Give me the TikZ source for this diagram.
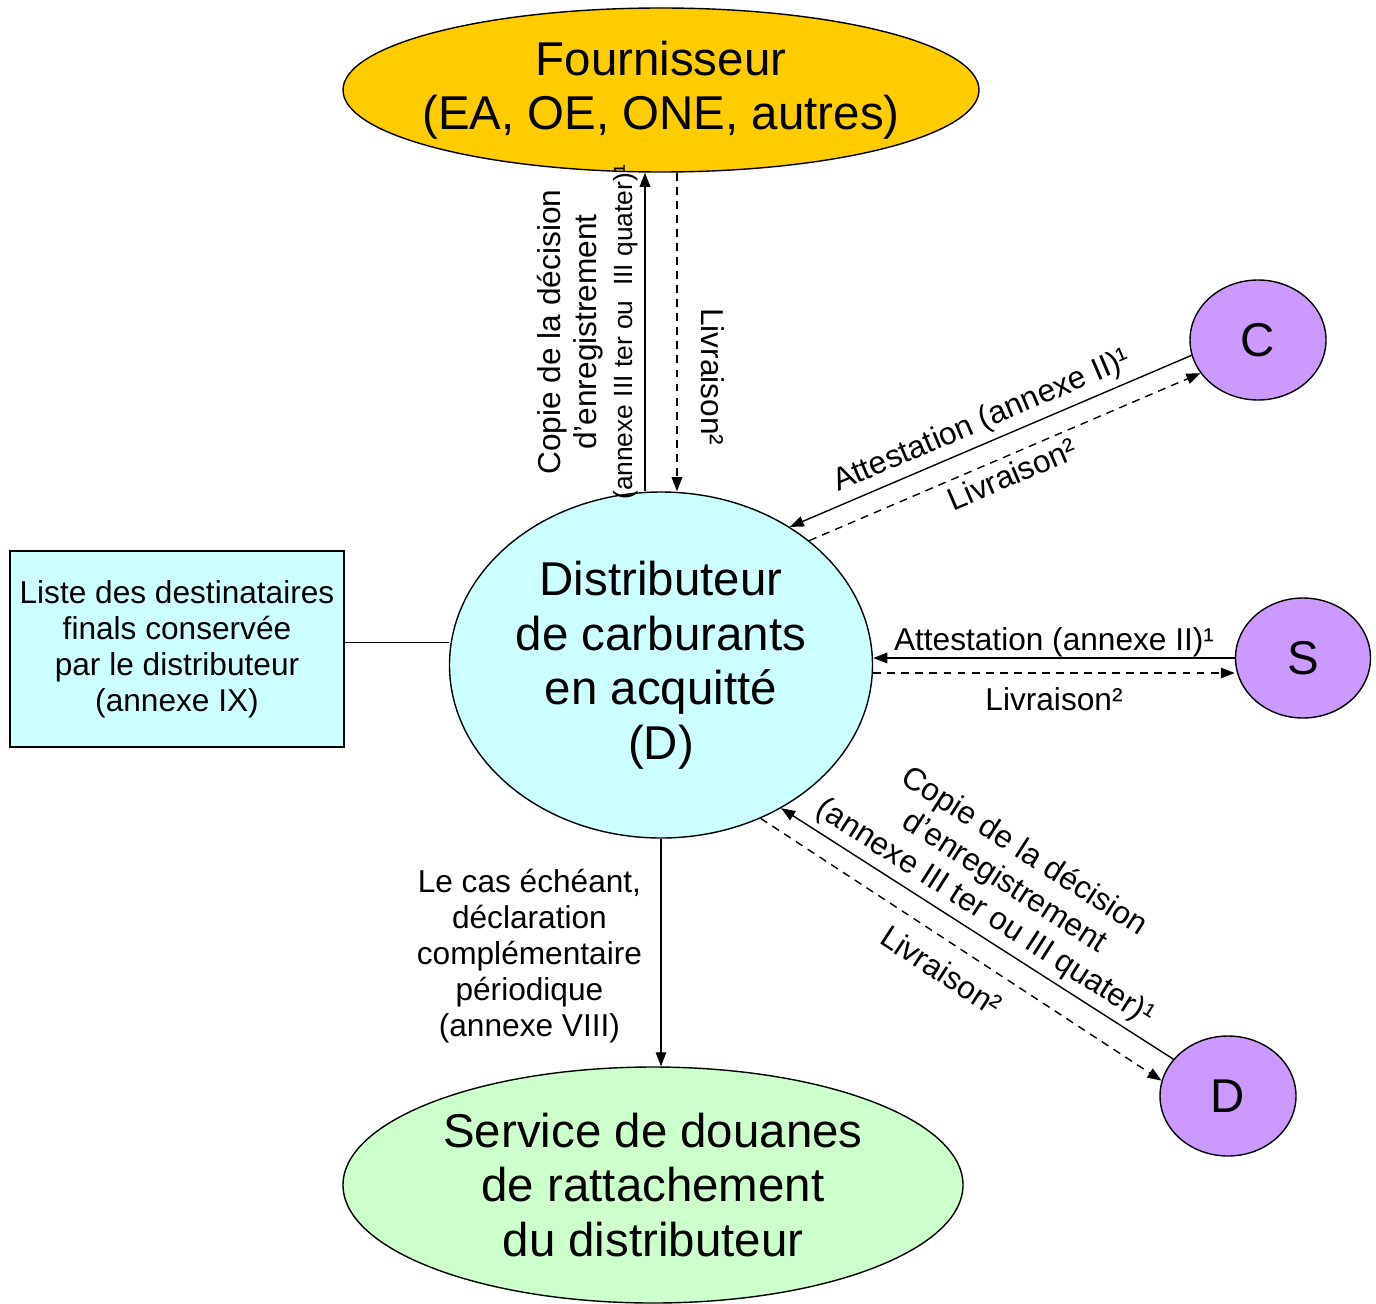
\documentclass[tikz,border=0pt]{standalone}
\usepackage{fontspec}
\setmainfont{Liberation Sans}
\usetikzlibrary{shapes.geometric, arrows.meta, positioning}
\definecolor{fourcol}{HTML}{FFCC00}
\definecolor{distcol}{HTML}{CCFFFF}
\definecolor{servcol}{HTML}{CCFFCC}
\definecolor{actcol}{HTML}{CC99FF}
\tikzset{
    party/.style = {
        ellipse, draw, line width=0.8pt,
        inner sep=0pt,
        align=center,
        font=\fontsize{27}{31}\selectfont
    },
    actor/.style = {
        ellipse, draw, line width=0.8pt, fill=actcol,
        minimum width=2.72cm,
        minimum height=2.4cm,
        inner sep=0pt,
        font=\fontsize{27}{31}\selectfont
    },
    listbox/.style = {
        rectangle, draw, line width=1.4pt, fill=distcol,
        minimum width=6.68cm,
        minimum height=3.92cm,
        align=center,
        font=\fontsize{18}{20.5}\selectfont
    },
    lbl/.style = {
        align=center,
        font=\fontsize{18}{20.5}\selectfont
    },
    arrow/.style = {
        -{Triangle[length=8pt, width=6pt]}, line width=0.8pt
    },
    dasharrow/.style = {
        arrow, dash pattern=on 4.5pt off 3.5pt
    }
}

\begin{document}
\begin{tikzpicture}[node distance=1cm]
\useasboundingbox (-13.22,-12.76) rectangle (14.30,13.30);

\node (dist) [party, fill=distcol, minimum width=8.46cm, minimum height=6.92cm] {Distributeur\\de carburants\\en acquitté\\(D)};
\node (four) [party, fill=fourcol, minimum width=12.72cm, minimum height=3.28cm, inner xsep=-1cm, node distance=11.5cm, above of=dist] {Fournisseur\\(EA, OE, ONE, autres)};
\node (serv) [party, fill=servcol, minimum width=12.4cm, minimum height=4.72cm, node distance=10.4cm, below of=dist, xshift=-0.16cm] {Service de douanes\\de rattachement\\du distributeur};
\node (liste) [listbox, node distance=9.68cm, left of=dist, yshift=0.32cm] {Liste des destinataires\\finals conservée\\par le distributeur\\(annexe IX)};
\node (c) [actor, node distance=11.94cm, right of=dist, yshift=6.5cm] {C};
\node (s) [actor, node distance=12.84cm, right of=dist, yshift=0.14cm, minimum width=2.7cm] {S};
\node (d) [actor, node distance=11.34cm, right of=dist, yshift=-8.62cm] {D};

\draw [arrow] ([xshift=-0.32cm]dist.north) -- ([xshift=-0.32cm]four.south)
    node [lbl, midway, rotate=90, anchor=south] {Copie de la décision\\d’enregistrement\\{\fontsize{15}{17}\selectfont(annexe III ter ou \ III quater)¹}};
\draw [dasharrow] ([xshift=0.32cm]four.south) -- ([xshift=0.32cm]dist.north)
    node [lbl, pos=0.64, rotate=-90, anchor=south, inner ysep=0.46cm] {Livraison²};

\draw [arrow] (c.193) -- (dist.47) node [lbl, midway, above, sloped] {Attestation (annexe II)¹};
\draw [dasharrow] (dist.40) -- (c.210) node [lbl, midway, below, sloped] {Livraison²};

\draw [arrow] (s.west) -- ([yshift=0.14cm]dist.east) node [lbl, midway, above=-0.12cm] {Attestation (annexe II)¹};
\draw [dasharrow] ([yshift=-0.16cm]dist.east) -- ([yshift=-0.3cm]s.west) node [lbl, midway, below=0.16cm] {Livraison²};

\draw [arrow] (d.146) -- (dist.-50) node [lbl, pos=0.51, above, sloped] {Copie de la décision\\d’enregistrement\\(annexe III ter ou III quater)¹};
\draw [dasharrow] (dist.-57) -- (d.167) node [lbl, pos=0.49, below=0.2cm, sloped] {Livraison²};

\draw [arrow] (dist.south) -- (dist.south |- serv.north)
    node [lbl, midway, left=0.25cm, yshift=-0.08cm] {Le cas échéant,\\déclaration\\complémentaire\\périodique\\(annexe VIII)};
\draw ([yshift=0.14cm]liste.east) -- ([yshift=0.46cm]dist.west);

\end{tikzpicture}
\end{document}
